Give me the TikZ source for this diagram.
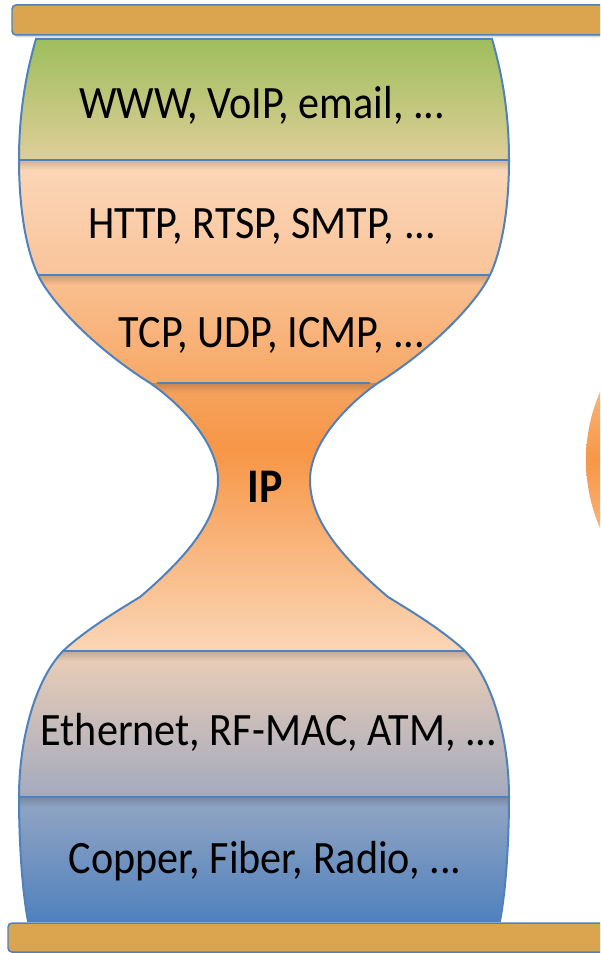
\documentclass[tikz,border=0pt]{standalone}
\usepackage{fontspec}
\setmainfont{Carlito}
\usepackage{graphicx}
\usetikzlibrary{shadows,fadings}
\definecolor{rimblue}{RGB}{79,129,189}
\definecolor{rimfill}{RGB}{219,164,78}
\newcommand{\tall}[1]{\scalebox{1}[1.1]{#1}}
\newcommand{\glass}{(36,39) .. controls (24,80) and (19,120) .. (19,160)
  .. controls (19,200) and (24,245) .. (38,275)
  .. controls (50,300) and (90,345) .. (150,383)
  .. controls (175,400) and (218,440) .. (218,480)
  .. controls (218,515) and (195,550) .. (140,597)
  .. controls (105,618) and (80,635) .. (63,651)
  .. controls (35,680) and (19,740) .. (19,797)
  .. controls (19,840) and (22,890) .. (28,921) -- (500,921)
  .. controls (506,890) and (509,840) .. (509,797)
  .. controls (509,740) and (493,680) .. (465,651)
  .. controls (448,635) and (423,618) .. (388,597)
  .. controls (333,550) and (310,515) .. (310,480)
  .. controls (310,440) and (353,400) .. (378,383)
  .. controls (438,345) and (478,300) .. (490,275)
  .. controls (504,245) and (509,200) .. (509,160)
  .. controls (509,120) and (504,80) .. (492,39) -- cycle}

\begin{document}
\begin{tikzpicture}[x=0.02cm,y=-0.02cm,
  layer/.style={font=\fontsize{24}{29}\selectfont, anchor=base},
  glassline/.style={draw=rimblue, line width=0.04cm},
  sepline/.style={draw=rimblue, line width=0.04cm},
  lineshadow/.style={fill=black, opacity=0.18, path fading=south},
  rim/.style={draw=rimblue, line width=0.03cm, fill=rimfill, rounded corners=0.08cm,
    drop shadow={opacity=0.3, shadow xshift=0.04cm, shadow yshift=-0.05cm}}]
\useasboundingbox (0,0) rectangle (600,953);
\clip (0,0) rectangle (600,953);
\shade[top color={rgb,255:red,252;green,222;blue,198}, bottom color={rgb,255:red,252;green,222;blue,198},
  middle color={rgb,255:red,247;green,150;blue,70}] (758,460) circle (172);
\begin{scope}
\clip \glass;
\shade[top color={rgb,255:red,158;green,190;blue,92}, bottom color={rgb,255:red,222;green,206;blue,152}] (0,39) rectangle (600,160);
\shade[top color={rgb,255:red,251;green,215;blue,185}, bottom color={rgb,255:red,249;green,196;blue,154}] (0,160) rectangle (600,275);
\shade[top color={rgb,255:red,249;green,192;blue,146}, bottom color={rgb,255:red,247;green,168;blue,102}] (0,275) rectangle (600,383);
\shade[top color={rgb,255:red,245;green,163;blue,96}, bottom color={rgb,255:red,247;green,150;blue,70}] (0,383) rectangle (600,450);
\shade[top color={rgb,255:red,247;green,150;blue,70}, bottom color={rgb,255:red,251;green,214;blue,182}] (0,450) rectangle (600,651);
\shade[top color={rgb,255:red,236;green,206;blue,182}, bottom color={rgb,255:red,163;green,170;blue,190}] (0,651) rectangle (600,797);
\shade[top color={rgb,255:red,148;green,166;blue,196}, bottom color={rgb,255:red,79;green,129;blue,189}] (0,797) rectangle (600,922);
\foreach \y in {160,275,383,651,797}
  \fill[lineshadow] (0,\y) rectangle (600,\y+10);
\end{scope}
\draw[glassline] \glass;
\draw[sepline] (19,160) -- (509,160);
\draw[sepline] (38,275) -- (490,275);
\draw[sepline] (157,383) -- (370,383);
\draw[sepline] (62,651) -- (465,651);
\draw[sepline] (19,797) -- (509,797);
\node[layer] (www) at (262,118) {\tall{WWW, VoIP, email, ...}};
\node[layer] (http) at (262,238) {\tall{HTTP, RTSP, SMTP, ...}};
\node[layer] (tcp) at (272,347) {\tall{TCP, UDP, ICMP, ...}};
\node[layer, font=\fontsize{25}{29}\selectfont\bfseries] (ip) at (265,502) {\tall{IP}};
\node[layer] (mac) at (269,745) {\tall{Ethernet, RF-MAC, ATM, ...}};
\node[layer] (phy) at (265,873) {\tall{Copper, Fiber, Radio, ...}};
\draw[rim] (12,5) rectangle (640,35);
\draw[rim] (8,923) rectangle (640,952);
\end{tikzpicture}
\end{document}
